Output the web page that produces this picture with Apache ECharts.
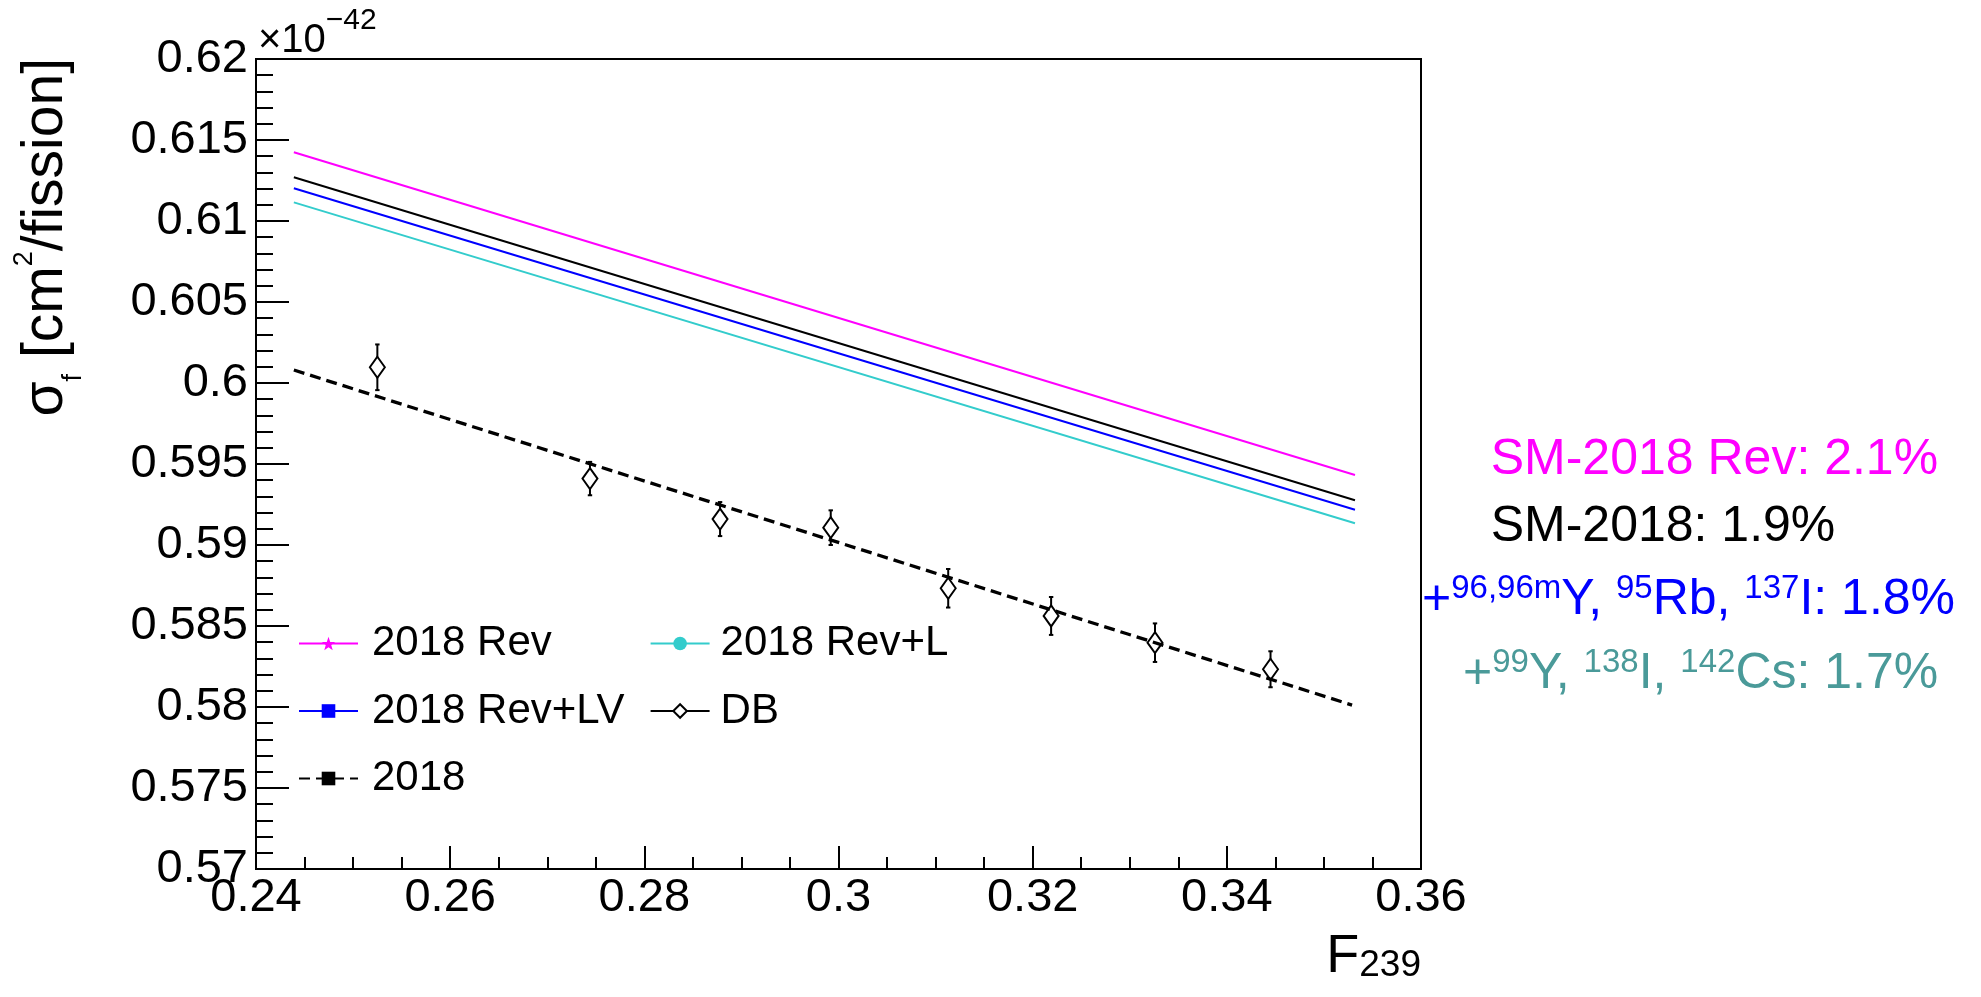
<!DOCTYPE html>
<html>
<head>
<meta charset="utf-8">
<script src="https://cdn.jsdelivr.net/npm/echarts@6/dist/echarts.min.js"></script>
<style>html,body{margin:0;padding:0;background:#fff}#c{width:1981px;height:997px}</style>
</head>
<body>
<div id="c"></div>
<script>
// ---- data (values in units of 1e-42 cm^2/fission) ----
const lineF      = [0.2439, 0.3532];           // F239 range of the model lines
const rev2018    = [0.61424, 0.59432];         // 2018 Rev (magenta)
const sm2018     = [0.61270, 0.59276];         // SM-2018 (black solid)
const revLV      = [0.61202, 0.59218];         // 2018 Rev+LV (blue)
const revL       = [0.61115, 0.59134];         // 2018 Rev+L (cyan)
const fitF       = [0.2439, 0.3529];           // F239 range of the 2018 dashed line
const fit2018    = [0.60080, 0.58012];         // 2018 (black dashed)
const dbF        = [0.2525, 0.2744, 0.2878, 0.2992, 0.3113, 0.3219, 0.3326, 0.3445];
const dbSigma    = [0.60097, 0.59410, 0.59160, 0.59107, 0.58733, 0.58562, 0.58397, 0.58233];
const dbErr      = [0.00141, 0.00103, 0.00105, 0.00107, 0.00119, 0.00117, 0.00119, 0.00111];
const legendCol1 = ['2018 Rev', '2018 Rev+LV', '2018'];
const legendCol2 = ['2018 Rev+L', 'DB'];

const FONT = 'Liberation Sans';
const pair = (xs, ys) => xs.map((x, i) => [x, ys[i]]);
const star = 'path://M0,-10L2.4,-3.1L9.5,-3.1L3.8,1.2L5.9,8.1L0,4L-5.9,8.1L-3.8,1.2L-9.5,-3.1L-2.4,-3.1Z';

const mctx = document.createElement('canvas').getContext('2d');
function textWidth(t, size) { mctx.font = size + 'px "' + FONT + '"'; return mctx.measureText(t).width; }

// y-axis title pieces: [text, font size, offset of the text middle across the baseline]
const yTitlePieces = [['σ', 57, 0], ['f', 27, 27], [' [cm', 57, 0], ['2', 27, -22], ['/fission]', 57, 0]];
function yTitleGraphics(midX, topY) {
  const widths = yTitlePieces.map(p => textWidth(p[0], p[1]));
  const total = widths.reduce((a, b) => a + b, 0);
  let cum = 0;
  return yTitlePieces.map((p, i) => {
    const el = {type: 'text', x: midX + p[2], y: topY + total - cum, rotation: Math.PI / 2,
      style: {text: p[0], fontSize: p[1], fontFamily: FONT, fill: '#000', align: 'left', verticalAlign: 'middle'}};
    cum += widths[i];
    return el;
  });
}

const chart = echarts.init(document.getElementById('c'));

const legendText = {fontSize: 42, lineHeight: 42, fontFamily: FONT, color: '#000', padding: [0, 0, 0, 9]};

function supRich(color) {
  return {
    b: {fontSize: 50, lineHeight: 50, fontFamily: FONT, fill: color, padding: [3, 0, 0, 0], verticalAlign: 'top'},
    s: {fontSize: 33, lineHeight: 33, fontFamily: FONT, fill: color, verticalAlign: 'top'}
  };
}

const option = {
  animation: false,
  backgroundColor: '#fff',
  grid: {left: 256, top: 59, width: 1165, height: 810, show: true, borderColor: '#000', borderWidth: 2, backgroundColor: 'transparent'},
  xAxis: {
    type: 'value', min: 0.24, max: 0.36, interval: 0.02,
    axisLine: {show: true, onZero: false, lineStyle: {color: '#000', width: 2}},
    axisTick: {show: true, inside: true, length: 23, lineStyle: {color: '#000', width: 2}},
    minorTick: {show: true, splitNumber: 4, length: 12, lineStyle: {color: '#000', width: 2}},
    splitLine: {show: false},
    axisLabel: {fontSize: 47, lineHeight: 47, fontFamily: FONT, color: '#000', margin: 6, showMinLabel: true, showMaxLabel: true}
  },
  yAxis: {
    type: 'value', min: 0.57, max: 0.62, interval: 0.005,
    axisLine: {show: true, onZero: false, lineStyle: {color: '#000', width: 2}},
    axisTick: {show: true, inside: true, length: 33, lineStyle: {color: '#000', width: 2}},
    minorTick: {show: true, splitNumber: 5, length: 17, lineStyle: {color: '#000', width: 2}},
    splitLine: {show: false},
    axisLabel: {fontSize: 47, lineHeight: 47, fontFamily: FONT, color: '#000', margin: 8, showMinLabel: true, showMaxLabel: true}
  },
  legend: [
    {left: 298, top: 622.5, orient: 'vertical', padding: 0, itemWidth: 59, itemHeight: 17, itemGap: 25.5,
     selectedMode: false, data: legendCol1, textStyle: legendText},
    {left: 649.6, top: 622.5, orient: 'vertical', padding: 0, itemWidth: 59, itemHeight: 17, itemGap: 25.5,
     selectedMode: false, textStyle: Object.assign({}, legendText, {padding: [0, 0, 0, 6]}),
     data: [legendCol2[0], {name: legendCol2[1],
            itemStyle: {color: '#fff', borderColor: '#000', borderWidth: 2, opacity: 1},
            lineStyle: {color: '#000', width: 2, opacity: 1, type: 'solid'}}]}
  ],
  series: [
    {name: '2018 Rev', type: 'line', data: pair(lineF, rev2018), symbol: star, showSymbol: false, z: 3,
     lineStyle: {color: '#ff00ff', width: 2}, itemStyle: {color: '#ff00ff'}},
    {name: 'SM-2018', type: 'line', data: pair(lineF, sm2018), symbol: 'none', z: 3,
     lineStyle: {color: '#000', width: 2}, itemStyle: {color: '#000'}},
    {name: '2018 Rev+LV', type: 'line', data: pair(lineF, revLV), symbol: 'rect', showSymbol: false, z: 3,
     lineStyle: {color: '#0000ff', width: 2}, itemStyle: {color: '#0000ff'}},
    {name: '2018 Rev+L', type: 'line', data: pair(lineF, revL), symbol: 'circle', showSymbol: false, z: 3,
     lineStyle: {color: '#33cccc', width: 2}, itemStyle: {color: '#33cccc'}},
    {name: 'DB error', type: 'custom', z: 4,
     data: dbF.map((f, i) => [f, dbSigma[i] - dbErr[i], dbSigma[i] + dbErr[i]]),
     encode: {x: 0, y: [1, 2]},
     renderItem: function (params, api) {
       const x = api.value(0);
       const lo = api.coord([x, api.value(1)]);
       const hi = api.coord([x, api.value(2)]);
       const st = {stroke: '#000', lineWidth: 2, fill: null};
       const c = 2.2;
       return {type: 'group', children: [
         {type: 'line', shape: {x1: lo[0], y1: lo[1], x2: hi[0], y2: hi[1]}, style: st},
         {type: 'line', shape: {x1: lo[0] - c, y1: lo[1], x2: lo[0] + c, y2: lo[1]}, style: st},
         {type: 'line', shape: {x1: hi[0] - c, y1: hi[1], x2: hi[0] + c, y2: hi[1]}, style: st}
       ]};
     }},
    {name: 'DB', type: 'line', data: pair(dbF, dbSigma), symbol: 'diamond', symbolSize: [15, 21], showSymbol: true, z: 5,
     lineStyle: {color: '#000', width: 2, opacity: 0},
     itemStyle: {color: '#fff', borderColor: '#000', borderWidth: 2}},
    {name: '2018', type: 'line', data: pair(fitF, fit2018), symbol: 'rect', showSymbol: false, z: 6,
     lineStyle: {color: '#000', width: 3.3, type: [11, 6]}, itemStyle: {color: '#000'}}
  ],
  graphic: yTitleGraphics(46.5, 58).concat([
    {type: 'text', x: 1421, y: 930.5, style: {
      text: '{b|F}{sub|239}', align: 'right', verticalAlign: 'top',
      rich: {
        b: {fontSize: 54, lineHeight: 54, fontFamily: FONT, fill: '#000', padding: [0, 0, 15.5, 0], verticalAlign: 'top'},
        sub: {fontSize: 37, lineHeight: 37, fontFamily: FONT, fill: '#000', verticalAlign: 'bottom'}
      }}},
    {type: 'text', x: 258, y: 6, style: {
      text: '{b|×10}{sup|−42}', align: 'left', verticalAlign: 'top',
      rich: {
        b: {fontSize: 40, lineHeight: 40, fontFamily: FONT, fill: '#000', padding: [14.5, 0, 0, 0], verticalAlign: 'top'},
        sup: {fontSize: 30, lineHeight: 30, fontFamily: FONT, fill: '#000', verticalAlign: 'top'}
      }}},
    {type: 'text', x: 1490.7, y: 460, style: {text: 'SM-2018 Rev: 2.1%', fontSize: 50, fontFamily: FONT, fill: '#ff00ff', align: 'left', verticalAlign: 'middle'}},
    {type: 'text', x: 1490.7, y: 527, style: {text: 'SM-2018: 1.9%', fontSize: 50, fontFamily: FONT, fill: '#000', align: 'left', verticalAlign: 'middle'}},
    {type: 'text', x: 1422, y: 597.5, style: {
      text: '{b|+}{s|96,96m}{b|Y, }{s|95}{b|Rb, }{s|137}{b|I: 1.8%}', align: 'left', verticalAlign: 'middle',
      rich: supRich('#0000ff')}},
    {type: 'text', x: 1463, y: 671, style: {
      text: '{b|+}{s|99}{b|Y, }{s|138}{b|I, }{s|142}{b|Cs: 1.7%}', align: 'left', verticalAlign: 'middle',
      rich: supRich('#4a9a99')}}
  ])
};
chart.setOption(option);
</script>
</body>
</html>
